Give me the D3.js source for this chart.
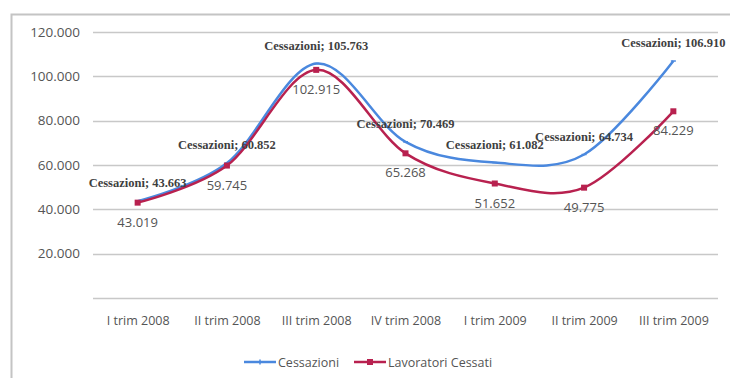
<!DOCTYPE html>
<html>
<head>
<meta charset="utf-8">
<script src="https://cdn.jsdelivr.net/npm/d3@7"></script>
<style>
  html, body { margin: 0; padding: 0; background: #fff; }
  svg { display: block; }
</style>
</head>
<body>
<svg id="chart" width="730" height="378"></svg>
<script>
// Quarterly figures
const categories = ["I trim 2008", "II trim 2008", "III trim 2008", "IV trim 2008", "I trim 2009", "II trim 2009", "III trim 2009"];
const cessazioni = [43663, 60852, 105763, 70469, 61082, 64734, 106910];
const lavoratoriCessati = [43019, 59745, 102915, 65268, 51652, 49775, 84229];
const yTicks = [20000, 40000, 60000, 80000, 100000, 120000];
const seriesNames = ["Cessazioni", "Lavoratori Cessati"];

const blue = "#4a88de";
const red = "#b8214f";

const svg = d3.select("#chart");
const fmt = v => d3.format(",")(v).replace(/,/g, ".");

// chart frame
svg.append("rect")
  .attr("x", 11.5).attr("y", 14.5).attr("width", 730).attr("height", 380)
  .attr("fill", "none").attr("stroke", "#c4c4c4").attr("stroke-width", 2);

const x = d3.scalePoint().domain(categories).range([93, 718]).padding(0.5);
const y = d3.scaleLinear().domain([0, 120000]).range([298, 32]);

// horizontal gridlines (including the baseline)
svg.append("g").selectAll("line")
  .data([0, ...yTicks])
  .join("line")
  .attr("x1", 93).attr("x2", 718)
  .attr("y1", d => Math.round(y(d)) + 0.5).attr("y2", d => Math.round(y(d)) + 0.5)
  .attr("stroke", "#c8c8c8").attr("stroke-width", 1.3);

// y axis labels
const yAxis = d3.axisLeft(y).tickValues(yTicks).tickFormat(fmt).tickSize(0).tickPadding(0);
const yg = svg.append("g").attr("transform", "translate(80,0)").call(yAxis);
yg.select(".domain").remove();
yg.selectAll("text")
  .attr("font-family", "'Open Sans', sans-serif").attr("font-size", 13.5)
  .attr("fill", "#555");

// x axis labels
const xAxis = d3.axisBottom(x).tickSize(0).tickPadding(0);
const xg = svg.append("g").attr("transform", "translate(0,316)").call(xAxis);
xg.select(".domain").remove();
xg.selectAll("text")
  .attr("font-family", "'Open Sans', sans-serif").attr("font-size", 12.5)
  .attr("fill", "#555");

const line = d3.line()
  .x((d, i) => x(categories[i]))
  .y(d => y(d))
  .curve(d3.curveCardinal.tension(0));

// Cessazioni
svg.append("path").datum(cessazioni)
  .attr("d", line).attr("fill", "none")
  .attr("stroke", blue).attr("stroke-width", 2.5);
svg.append("g").selectAll("line")
  .data(cessazioni).join("line")
  .attr("x1", (d, i) => x(categories[i]) - 2.5).attr("x2", (d, i) => x(categories[i]) + 2.5)
  .attr("y1", d => y(d)).attr("y2", d => y(d))
  .attr("stroke", blue).attr("stroke-width", 1.5);

// Lavoratori Cessati
svg.append("path").datum(lavoratoriCessati)
  .attr("d", line).attr("fill", "none")
  .attr("stroke", red).attr("stroke-width", 2.5);
svg.append("g").selectAll("rect")
  .data(lavoratoriCessati).join("rect")
  .attr("x", (d, i) => x(categories[i]) - 3).attr("y", d => y(d) - 3)
  .attr("width", 6).attr("height", 6).attr("fill", red);

// data labels: Cessazioni above, Lavoratori Cessati below
svg.append("g").selectAll("text")
  .data(cessazioni).join("text")
  .attr("x", (d, i) => x(categories[i]))
  .attr("y", d => y(d) - 18)
  .attr("text-anchor", "middle").attr("dominant-baseline", "central")
  .attr("font-family", "'Liberation Serif', serif").attr("font-size", 12.5)
  .attr("font-weight", "bold")
  .attr("fill", "#3f3f3f")
  .text(d => seriesNames[0] + "; " + fmt(d));

svg.append("g").selectAll("text")
  .data(lavoratoriCessati).join("text")
  .attr("x", (d, i) => x(categories[i]))
  .attr("y", d => y(d) + 19)
  .attr("text-anchor", "middle").attr("dominant-baseline", "central")
  .attr("font-family", "'Open Sans', sans-serif").attr("font-size", 13)
  .attr("fill", "#555")
  .text(d => fmt(d));

// legend
const legend = svg.append("g");
const items = [
  { name: seriesNames[0], color: blue, x: 244, marker: "dash" },
  { name: seriesNames[1], color: red, x: 354, marker: "square" }
];
items.forEach(it => {
  const g = legend.append("g").attr("transform", `translate(${it.x},362)`);
  g.append("line").attr("x1", 0).attr("x2", 32).attr("y1", 0).attr("y2", 0)
    .attr("stroke", it.color).attr("stroke-width", 2.5);
  if (it.marker === "square") {
    g.append("rect").attr("x", 13).attr("y", -3).attr("width", 6).attr("height", 6).attr("fill", it.color);
  } else {
    g.append("line").attr("x1", 16).attr("x2", 16).attr("y1", -2.5).attr("y2", 2.5)
      .attr("stroke", it.color).attr("stroke-width", 1.5);
  }
  g.append("text").attr("x", 34).attr("y", 0).attr("dominant-baseline", "central")
    .attr("font-family", "'Open Sans', sans-serif").attr("font-size", 12.5)
    .attr("fill", "#555").text(it.name);
});
</script>
</body>
</html>
